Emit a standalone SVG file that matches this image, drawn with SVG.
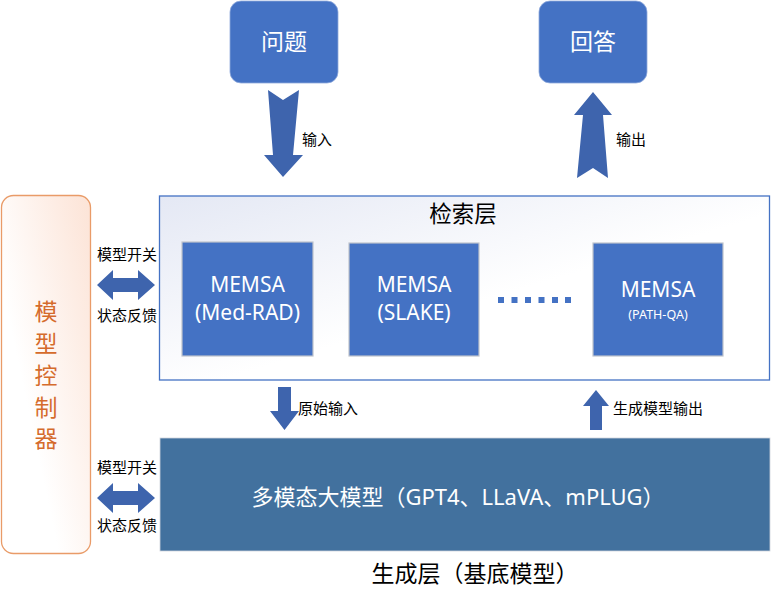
<svg xmlns="http://www.w3.org/2000/svg" width="772" height="597" viewBox="0 0 772 597">
<defs>
<linearGradient id="gRet" x1="0" y1="0" x2="1" y2="1">
<stop offset="0" stop-color="#E4E8F4"/>
<stop offset="0.55" stop-color="#FFFFFF"/>
</linearGradient>
<linearGradient id="gCtl" x1="1" y1="0" x2="0.3" y2="0.6">
<stop offset="0" stop-color="#FCE3D6"/>
<stop offset="1" stop-color="#FFFFFF"/>
</linearGradient>
<style>
text{font-family:"Noto Sans","Noto Sans CJK SC",sans-serif;}
.mem{fill:#4472C4;stroke:#BFC4CC;stroke-width:1.2;}
.w{fill:#FFFFFF;text-anchor:middle;}
.lbl{fill:#000000;font-size:15px;}
.arr{fill:#3E64AD;}
.ttl{fill:#000000;text-anchor:middle;}
</style>
</defs>

<g id="controller">
<rect x="1.5" y="195.5" width="89" height="358" rx="12" fill="url(#gCtl)" stroke="#E99B68" stroke-width="1.3"/>
<g fill="#D56B2C" font-size="23" text-anchor="middle">
<text x="46" y="320">模</text>
<text x="46" y="352">型</text>
<text x="46" y="384">控</text>
<text x="46" y="416">制</text>
<text x="46" y="447">器</text>
</g>
</g>

<g id="question">
<rect x="230" y="1" width="108" height="82" rx="11" fill="#4472C4" stroke="#8FAADC" stroke-width="0.8"/>
<text class="w" x="284" y="50" font-size="23">问题</text>
</g>

<g id="answer">
<rect x="539" y="1" width="108" height="82" rx="11" fill="#4472C4" stroke="#8FAADC" stroke-width="0.8"/>
<text class="w" x="593" y="50" font-size="23">回答</text>
</g>

<g id="retrieval">
<rect x="159.5" y="196" width="610" height="184" fill="url(#gRet)" stroke="#4472C4" stroke-width="1.3"/>
<text class="ttl" x="463" y="222" font-size="22.5">检索层</text>
</g>

<g id="memsa1">
<rect class="mem" x="182" y="242" width="131" height="114"/>
<text class="w" x="247.5" y="292" font-size="21">MEMSA</text>
<text class="w" x="247.5" y="320" font-size="21">(Med-RAD)</text>
</g>

<g id="memsa2">
<rect class="mem" x="349" y="243" width="130" height="113"/>
<text class="w" x="414" y="292" font-size="21">MEMSA</text>
<text class="w" x="414" y="320" font-size="21">(SLAKE)</text>
</g>

<g id="ellipsis" fill="#4472C4">
<rect x="498" y="297" width="6" height="6"/>
<rect x="511.5" y="297" width="6" height="6"/>
<rect x="525" y="297" width="6" height="6"/>
<rect x="538.5" y="297" width="6" height="6"/>
<rect x="552" y="297" width="6" height="6"/>
<rect x="565" y="297" width="6" height="6"/>
</g>

<g id="memsa3">
<rect class="mem" x="593" y="243" width="130" height="113"/>
<text class="w" x="658" y="297" font-size="21">MEMSA</text>
<text class="w" x="658" y="319" font-size="12.5">(PATH-QA)</text>
</g>

<g id="generation">
<rect x="160" y="438" width="610" height="113" fill="#42719E" stroke="#D0D5DC" stroke-width="0.8"/>
<text class="w" x="458" y="505" font-size="22">多模态大模型（GPT4、LLaVA、mPLUG）</text>
<text class="ttl" x="475" y="582" font-size="23">生成层（基底模型）</text>
</g>

<g id="connectors">
<polygon class="arr" points="268,90 283,100 299,90 293,155 303,155 283,177 264,155 273,155"/>
<text class="lbl" x="302" y="145">输入</text>
<polygon class="arr" points="593,92 612,115 603,115 608,178 593,168 577,178 583,115 574,115"/>
<text class="lbl" x="616" y="145">输出</text>
<polygon class="arr" points="278,387 291,387 291,411 299,411 284.5,430 270,411 278,411"/>
<text class="lbl" x="298" y="414">原始输入</text>
<polygon class="arr" points="596,390 609,406 602,406 602,430 590,430 590,406 583,406"/>
<text class="lbl" x="613" y="414">生成模型输出</text>
<polygon class="arr" points="97,285 113,270 113,278 138,278 138,270 155,285 138,300 138,292 113,292 113,300"/>
<text class="lbl" x="97" y="260">模型开关</text>
<text class="lbl" x="97" y="321">状态反馈</text>
<polygon class="arr" points="97,498 113,483 113,491 138,491 138,483 155,498 138,513 138,505 113,505 113,513"/>
<text class="lbl" x="97" y="473">模型开关</text>
<text class="lbl" x="97" y="531">状态反馈</text>
</g>
</svg>
